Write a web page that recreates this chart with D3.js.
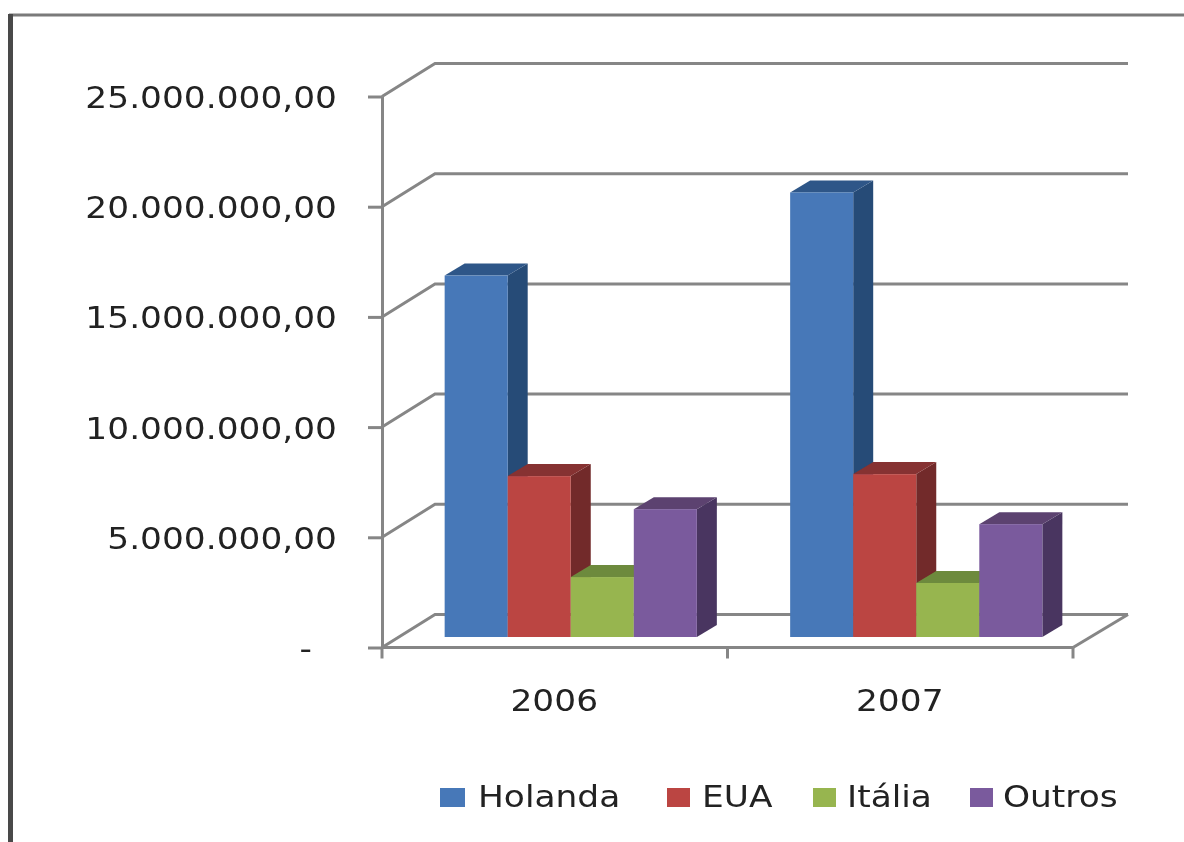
<!DOCTYPE html>
<html><head><meta charset="utf-8">
<script src="https://cdn.jsdelivr.net/npm/d3@7"></script>
<style>html,body{margin:0;padding:0;background:#fff;overflow:hidden}svg{display:block}
text{font-family:"DejaVu Sans",sans-serif;fill:#222;font-size:31px}</style></head>
<body><svg id="c" width="1184" height="842"></svg>
<script>
const years = ["2006", "2007"];
const seriesNames = ["Holanda", "EUA", "Itália", "Outros"];
const holanda = [16400000, 20170000];
const eua = [7300000, 7390000];
const italia = [2720000, 2450000];
const outros = [5800000, 5120000];
const seriesValues = [holanda, eua, italia, outros];
const frontColors = ["#4678B8", "#BB4542", "#97B550", "#7A5A9D"];
const topColors = ["#2F5788", "#863130", "#6D8A3C", "#5B4270"];
const sideColors = ["#274B77", "#722A2A", "#5F7833", "#483660"];
const yTicks = [0, 5000000, 10000000, 15000000, 20000000, 25000000];

const svg = d3.select("#c");
const defs = svg.append("defs");
defs.append("filter").attr("id", "soft").append("feGaussianBlur").attr("stdDeviation", 0.75);
const root = svg.append("g").attr("filter", "url(#soft)");
root.append("rect").attr("width", 1184).attr("height", 842).attr("fill", "#fff");

const y = d3.scaleLinear().domain([0, 25000000]).range([647.5, 96.5]);
const x0 = d3.scaleBand().domain(years).range([382, 1073]);
const x1 = d3.scaleBand().domain(seriesNames).range([0, x0.bandwidth()]).paddingInner(0).paddingOuter(0.74);
const grey = "#868686";
const wallDx = 53, wallDy = -33, wallRight = 1128;
const barDx = 20, barDy = -12, floorDx = 16, floorDy = -10.5;
const xScale = 1.11;

// frame
root.append("path").attr("d", "M10.5,842V15H1184").attr("fill", "none").attr("stroke", "#7a7a7a").attr("stroke-width", 3);
root.append("rect").attr("x", 8).attr("y", 14).attr("width", 5).attr("height", 828).attr("fill", "#4a4a4a");

// walls and gridlines
const line = (pts, w = 3) => root.append("path").attr("d", d3.line()(pts)).attr("fill", "none").attr("stroke", grey).attr("stroke-width", w);
yTicks.forEach(v => {
  line([[x0.range()[0], y(v)], [x0.range()[0] + wallDx, y(v) + wallDy], [wallRight, y(v) + wallDy]]);
});
line([[x0.range()[1], y(0)], [wallRight, y(0) + wallDy]]);

// y axis
const fmt = d3.formatLocale({decimal: ",", thousands: ".", grouping: [3], currency: ["", ""]}).format(",.2f");
const yAxis = root.append("g").attr("transform", `translate(${x0.range()[0]},0)`)
  .call(d3.axisLeft(y).tickValues(yTicks).tickSize(14).tickSizeOuter(0).tickFormat(v => v === 0 ? "-" : fmt(v)));
yAxis.selectAll(".domain").attr("stroke", grey).attr("stroke-width", 3);
yAxis.selectAll("line").attr("stroke", grey).attr("stroke-width", 3);
yAxis.selectAll("text").attr("x", null).attr("dy", null).attr("text-anchor", "end")
  .attr("transform", d => `translate(${d === 0 ? -70 : -45},11) scale(${xScale},1)`)
  .style("font-size", "31px").style("font-family", '"DejaVu Sans",sans-serif').attr("fill", "#222");

// x axis
line([[x0.range()[0], y(0)], [x0.range()[1], y(0)]]);
const xEdges = [...years.map(d => x0(d)), x0.range()[1]];
root.selectAll(".xt").data(xEdges).join("line").attr("class", "xt")
  .attr("x1", d => d).attr("x2", d => d).attr("y1", y(0)).attr("y2", y(0) + 11)
  .attr("stroke", grey).attr("stroke-width", 3);
root.selectAll(".xl").data(years).join("text").attr("class", "xl").attr("text-anchor", "middle")
  .attr("transform", d => `translate(${x0(d) + x0.bandwidth() / 2 - 0.5},711) scale(${xScale},1)`).text(d => d);

// bars
years.forEach((yr, i) => {
  seriesNames.forEach((s, j) => {
    const v = seriesValues[j][i];
    const l = x0(yr) + x1(s) + floorDx, w = x1.bandwidth();
    const t = y(v) + floorDy, b = y(0) + floorDy;
    const g = root.append("g");
    g.append("polygon").attr("fill", sideColors[j])
      .attr("points", [[l + w, t], [l + w + barDx, t + barDy], [l + w + barDx, b + barDy], [l + w, b]].join(" "));
    g.append("polygon").attr("fill", topColors[j])
      .attr("points", [[l, t], [l + barDx, t + barDy], [l + w + barDx, t + barDy], [l + w, t]].join(" "));
    g.append("rect").attr("x", l).attr("y", t).attr("width", w).attr("height", b - t).attr("fill", frontColors[j]);
  });
});

// legend
const legendSwatch = [440, 667, 813, 970];
const legendText = [478, 702, 847, 1003];
seriesNames.forEach((s, j) => {
  root.append("rect").attr("x", legendSwatch[j]).attr("y", 788).attr("width", j === 0 ? 25 : 23).attr("height", 19).attr("fill", frontColors[j]);
  root.append("text").attr("transform", `translate(${legendText[j]},807) scale(${xScale},1)`).text(s);
});
</script></body></html>
